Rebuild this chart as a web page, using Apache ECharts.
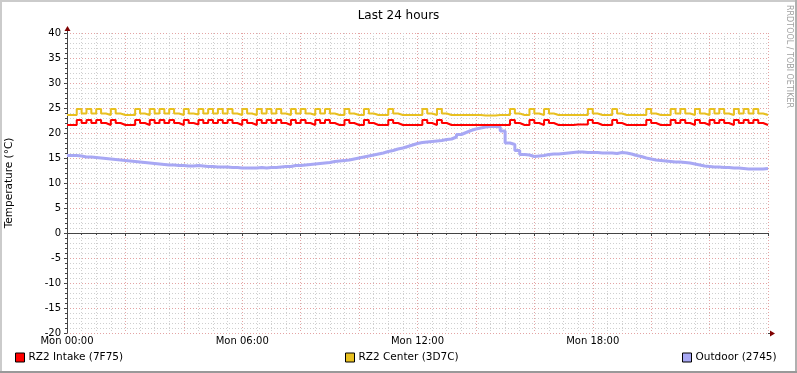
<!DOCTYPE html>
<html>
<head>
<meta charset="utf-8">
<script src="https://cdn.jsdelivr.net/npm/echarts@6/dist/echarts.min.js"></script>
<style>
  html, body { margin: 0; padding: 0; background: #fff; }
  #chart { width: 797px; height: 373px; }
</style>
</head>
<body>
<div id="chart"></div>
<script>
// samples every 10 minutes, Mon 00:00 .. Tue 00:00
const stepMinutes = 10;
const xTickLabels = ['Mon 00:00', 'Mon 06:00', 'Mon 12:00', 'Mon 18:00'];
const seriesNames = ['RZ2 Intake (7F75)', 'RZ2 Center (3D7C)', 'Outdoor (2745)'];

const intake = [
  21.6, 21.6, 22.6, 22.0, 22.6, 22.0, 22.6, 22.0, 21.6, 22.6,
  22.0, 21.6, 21.6, 21.6, 22.6, 22.0, 21.6, 22.6, 22.0, 22.6,
  22.0, 22.6, 22.0, 21.6, 22.6, 22.0, 21.7, 22.6, 22.0, 22.6,
  22.0, 22.6, 22.0, 22.6, 22.0, 21.6, 22.6, 22.0, 21.6, 22.6,
  22.0, 22.6, 22.0, 22.6, 22.0, 21.6, 22.6, 22.0, 22.6, 22.0,
  21.6, 22.6, 22.0, 22.6, 22.0, 21.6, 21.6, 22.6, 22.0, 21.6,
  21.6, 22.6, 22.0, 21.6, 21.6, 21.6, 22.6, 22.0, 21.6, 21.6,
  21.6, 21.6, 21.6, 22.6, 22.0, 21.6, 22.6, 22.0, 21.6, 21.6,
  21.6, 21.6, 21.6, 21.6, 21.6, 21.6, 21.6, 21.6, 21.6, 21.6,
  21.6, 22.6, 22.0, 21.6, 21.6, 22.6, 22.0, 21.6, 22.6, 22.0,
  21.6, 21.6, 21.6, 21.6, 21.7, 21.7, 21.7, 22.6, 22.0, 21.6,
  21.6, 21.6, 22.6, 22.0, 21.6, 21.6, 21.6, 21.6, 21.6, 22.6,
  22.0, 21.6, 21.6, 21.6, 22.6, 22.0, 22.6, 22.0, 21.6, 22.6,
  22.0, 21.6, 22.6, 22.0, 22.6, 22.0, 21.6, 22.6, 22.0, 22.6,
  22.0, 22.6, 22.0, 21.6, 21.6
];

const center = [
  23.6, 23.6, 24.8, 23.9, 24.8, 23.9, 24.8, 23.9, 23.6, 24.8,
  23.9, 23.6, 23.6, 23.6, 24.8, 23.9, 23.6, 24.8, 23.9, 24.8,
  23.9, 24.8, 23.9, 23.6, 24.8, 23.9, 23.7, 24.8, 23.9, 24.8,
  23.9, 24.8, 23.9, 24.8, 23.9, 23.6, 24.8, 23.9, 23.6, 24.8,
  23.9, 24.8, 23.9, 24.8, 23.9, 23.6, 24.8, 23.9, 24.8, 23.9,
  23.6, 24.8, 23.9, 24.8, 23.9, 23.6, 23.6, 24.8, 23.9, 23.6,
  23.6, 24.8, 23.9, 23.6, 23.6, 23.6, 24.8, 23.9, 23.6, 23.6,
  23.6, 23.6, 23.6, 24.8, 23.9, 23.6, 24.8, 23.9, 23.6, 23.6,
  23.6, 23.6, 23.6, 23.6, 23.6, 23.5, 23.5, 23.5, 23.6, 23.6,
  23.6, 24.8, 23.9, 23.6, 23.6, 24.8, 23.9, 23.6, 24.8, 23.9,
  23.6, 23.6, 23.6, 23.6, 23.6, 23.6, 23.6, 24.8, 23.9, 23.6,
  23.6, 23.6, 24.8, 23.9, 23.6, 23.6, 23.6, 23.6, 23.6, 24.8,
  23.9, 23.6, 23.6, 23.6, 24.8, 23.9, 24.8, 23.9, 23.6, 24.8,
  23.9, 23.6, 24.8, 23.9, 24.8, 23.9, 23.6, 24.8, 23.9, 24.8,
  23.9, 24.8, 23.9, 23.6, 23.7
];

const outdoor = [
  15.5, 15.5, 15.4, 15.2, 15.2, 15.1, 15.0, 14.9, 14.8, 14.7,
  14.6, 14.5, 14.4, 14.3, 14.2, 14.1, 14.0, 13.9, 13.8, 13.7,
  13.6, 13.6, 13.5, 13.5, 13.4, 13.4, 13.5, 13.4, 13.3, 13.3,
  13.2, 13.2, 13.2, 13.1, 13.1, 13.0, 13.0, 13.0, 13.0, 13.1,
  13.0, 13.1, 13.1, 13.2, 13.3, 13.3, 13.5, 13.5, 13.6, 13.7,
  13.8, 13.9, 14.0, 14.1, 14.3, 14.4, 14.5, 14.6, 14.8, 15.0,
  15.2, 15.4, 15.6, 15.8, 16.0, 16.3, 16.5, 16.8, 17.0, 17.3,
  17.6, 17.9, 18.1, 18.2, 18.3, 18.4, 18.5, 18.7, 18.8, 19.2,
  19.7, 20.1, 20.5, 20.8, 21.0, 21.2, 21.3, 21.3, 21.2, 20.4,
  18.0, 17.7, 16.5, 15.7, 15.6, 15.3, 15.4, 15.5, 15.7, 15.8,
  15.8, 15.9, 16.0, 16.1, 16.2, 16.2, 16.1, 16.1, 16.1, 16.0,
  16.0, 16.0, 15.9, 16.1, 16.0, 15.8, 15.5, 15.3, 15.0, 14.8,
  14.6, 14.5, 14.4, 14.3, 14.2, 14.2, 14.1, 14.0, 13.8, 13.6,
  13.4, 13.3, 13.2, 13.2, 13.1, 13.1, 13.0, 13.0, 12.9, 12.8,
  12.8, 12.8, 12.8, 12.9, 12.9
];

const times = [];
for (let i = 0; i < outdoor.length; i++) times.push(i * stepMinutes);

const colors = ['#ff0000', '#e8c020', '#a8a8f4'];
const font = 'DejaVu Sans';

function pairs(values) {
  return times.map((t, i) => [t, values[i]]);
}

const chart = echarts.init(document.getElementById('chart'), null, { renderer: 'canvas' });

function legendFor(name, left) {
  return {
    data: [name],
    left: left,
    top: 352,
    icon: 'rect',
    itemWidth: 9,
    itemHeight: 9,
    padding: 0,
    selectedMode: false,
    itemStyle: { borderColor: '#000', borderWidth: 1 },
    textStyle: { fontFamily: font, fontSize: 10.5, color: '#000', padding: [0, 0, 0, -1] }
  };
}

const option = {
  animation: false,
  backgroundColor: '#fff',
  title: {
    text: 'Last 24 hours',
    left: 'center',
    top: 5,
    textStyle: { fontFamily: font, fontSize: 12, fontWeight: 'normal', color: '#000' }
  },
  legend: [
    legendFor(seriesNames[0], 15),
    legendFor(seriesNames[1], 345),
    legendFor(seriesNames[2], 682)
  ],
  grid: { left: 67, right: 29, top: 33, bottom: 40, containLabel: false, outerBoundsMode: 'none' },
  xAxis: {
    type: 'value',
    min: 0,
    max: 1440,
    interval: 120,
    axisLine: { lineStyle: { color: '#444', width: 1 } },
    axisTick: { show: true, length: 3, lineStyle: { color: '#444' } },
    minorTick: { show: true, splitNumber: 4, length: 2, lineStyle: { color: '#444' } },
    axisLabel: {
      fontFamily: font, fontSize: 10, color: '#000', margin: 3,
      showMaxLabel: false,
      formatter: v => (v % 360 === 0 && v < 1440) ? xTickLabels[v / 360] : ''
    },
    splitLine: { show: true, lineStyle: { color: '#e4a4a4', type: [1, 2], width: 1 } },
    minorSplitLine: { show: true, lineStyle: { color: '#cfcfcf', type: [1, 2], width: 1 } }
  },
  yAxis: {
    type: 'value',
    min: -20,
    max: 40,
    interval: 5,
    name: 'Temperature (°C)',
    nameLocation: 'middle',
    nameGap: 52,
    nameTextStyle: { fontFamily: font, fontSize: 10.5, color: '#000' },
    axisLine: { show: true, lineStyle: { color: '#444', width: 1 } },
    axisTick: { show: true, length: 3, lineStyle: { color: '#444' } },
    minorTick: { show: true, splitNumber: 5, length: 2, lineStyle: { color: '#444' } },
    axisLabel: { fontFamily: font, fontSize: 10, color: '#000', margin: 6 },
    splitLine: { show: true, lineStyle: { color: '#e4a4a4', type: [1, 2], width: 1 } },
    minorSplitLine: { show: true, lineStyle: { color: '#cfcfcf', type: [1, 2], width: 1 } }
  },
  series: [
    {
      name: seriesNames[2], type: 'line', step: 'end', showSymbol: false, z: 2,
      color: colors[2], lineStyle: { width: 3, color: colors[2] },
      data: pairs(outdoor)
    },
    {
      name: seriesNames[0], type: 'line', step: 'end', showSymbol: false, z: 3,
      color: colors[0], lineStyle: { width: 2, color: colors[0] },
      data: pairs(intake)
    },
    {
      name: seriesNames[1], type: 'line', step: 'end', showSymbol: false, z: 3,
      color: colors[1], lineStyle: { width: 2, color: colors[1] },
      data: pairs(center)
    }
  ],
  graphic: [
    // frame shading
    { type: 'rect', shape: { x: 0, y: 0, width: 797, height: 2 }, style: { fill: '#cbcbcb' }, silent: true },
    { type: 'rect', shape: { x: 0, y: 0, width: 2, height: 373 }, style: { fill: '#cbcbcb' }, silent: true },
    { type: 'rect', shape: { x: 795, y: 0, width: 2, height: 373 }, style: { fill: '#b0b0b0' }, silent: true },
    { type: 'rect', shape: { x: 0, y: 371, width: 797, height: 2 }, style: { fill: '#999' }, silent: true },
    // axis arrows
    { type: 'line', shape: { x1: 768, y1: 333.5, x2: 771, y2: 333.5 }, style: { stroke: '#444', lineWidth: 1 }, silent: true },
    { type: 'polygon', shape: { points: [[770, 330.5], [775, 333.5], [770, 336.5]] }, style: { fill: '#7f0000' }, silent: true },
    { type: 'line', shape: { x1: 67.5, y1: 33, x2: 67.5, y2: 30 }, style: { stroke: '#444', lineWidth: 1 }, silent: true },
    { type: 'polygon', shape: { points: [[64.5, 31], [67.5, 26], [70.5, 31]] }, style: { fill: '#7f0000' }, silent: true },
    // watermark
    {
      type: 'text', x: 785, y: 5, rotation: -Math.PI / 2, silent: true,
      style: { text: 'RRDTOOL / TOBI OETIKER', fontFamily: font, fontSize: 8, fill: '#a0a0a0', textAlign: 'left', textVerticalAlign: 'bottom' }
    }
  ]
};

chart.setOption(option);
</script>
</body>
</html>
